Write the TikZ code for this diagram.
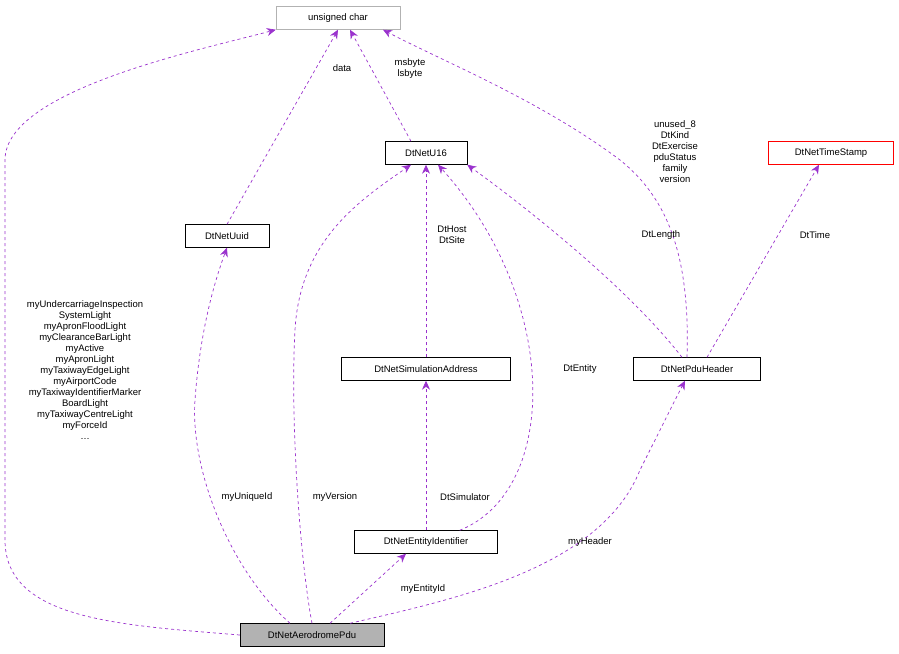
\documentclass[tikz,border=0pt]{standalone}
\usepackage{fontspec}
\setmainfont{Liberation Sans}
\usetikzlibrary{positioning,arrows,arrows.meta}
\definecolor{edgepurple}{HTML}{9A32CD}

\begin{document}
\begin{tikzpicture}[x=1pt,y=-1pt,
  cls/.style={draw=black,fill=white,minimum height=23pt,inner sep=2pt,font=\fontsize{9.5}{10}\selectfont},
  dep/.style={-{Stealth[length=9pt,width=8pt]},dashed,draw=edgepurple,line width=0.7pt},
  lab/.style={font=\fontsize{9.5}{11}\selectfont,align=center,inner sep=1pt}]
  \useasboundingbox (0,0) rectangle (899,653);
  \node[cls,draw=gray!60,minimum width=124pt] (uchar) at (338,18) {unsigned char};
  \node[cls,minimum width=82pt] (u16) at (426,153) {DtNetU16};
  \node[cls,draw=red,minimum width=125pt] (stamp) at (831,153) {DtNetTimeStamp};
  \node[cls,minimum width=84pt] (uuid) at (227,236) {DtNetUuid};
  \node[cls,minimum width=169pt] (simaddr) at (426,369) {DtNetSimulationAddress};
  \node[cls,minimum width=127pt] (header) at (697,369) {DtNetPduHeader};
  \node[cls,minimum width=143pt] (entid) at (426,542) {DtNetEntityIdentifier};
  \node[cls,fill=gray!60,minimum width=144pt] (pdu) at (312,635) {DtNetAerodromePdu};

  % links from the pdu
  \draw[dep] (pdu.west) .. controls (120,625) and (5,620) .. (5,540) -- (5,160)
    .. controls (5,90) and (200,50) .. (uchar.south west);
  \draw[dep] ([xshift=-22pt]pdu.north) .. controls (230,570) and (190,470) .. (195,400)
    .. controls (200,330) and (215,280) .. (uuid.south);
  \draw[dep] (pdu.north) .. controls (300,560) and (290,420) .. (295,330)
    .. controls (300,240) and (360,200) .. ([xshift=-15pt]u16.south);
  \draw[dep] ([xshift=18pt]pdu.north) -- ([xshift=-20pt]entid.south);
  \draw[dep] ([xshift=38pt]pdu.north) .. controls (450,600) and (600,570) .. (640,470)
    .. controls (660,430) and (675,400) .. ([xshift=-12pt]header.south);
  \node[lab] at (85,370) {myUndercarriageInspection\\SystemLight\\myApronFloodLight\\myClearanceBarLight\\myActive\\myApronLight\\myTaxiwayEdgeLight\\myAirportCode\\myTaxiwayIdentifierMarker\\BoardLight\\myTaxiwayCentreLight\\myForceId\\\dots};
  \node[lab] at (247,497) {myUniqueId};
  \node[lab] at (335,497) {myVersion};
  \node[lab] at (423,589) {myEntityId};
  \node[lab] at (590,542) {myHeader};

  % inner links
  \draw[dep] (entid.north) -- (simaddr.south);
  \draw[dep] ([xshift=-38pt]entid.north east) .. controls (560,490) and (560,300) .. ([xshift=12pt]u16.south);
  \draw[dep] (simaddr.north) -- (u16.south);
  \draw[dep] ([xshift=-15pt]header.north) .. controls (630,290) and (530,210) .. (u16.south east);
  \draw[dep] ([xshift=-10pt]header.north) .. controls (690,260) and (670,200) .. (620,160)
    .. controls (540,100) and (440,60) .. ([xshift=45pt]uchar.south);
  \draw[dep] ([xshift=10pt]header.north) -- ([xshift=-12pt]stamp.south);
  \draw[dep] (uuid.north) -- (uchar.south);
  \draw[dep] ([xshift=-15pt]u16.north) -- ([xshift=12pt]uchar.south);
  \node[lab] at (465,497) {DtSimulator};
  \node[lab] at (580,369) {DtEntity};
  \node[lab] at (452,235) {DtHost\\DtSite};
  \node[lab] at (661,235) {DtLength};
  \node[lab] at (675,152) {unused\_8\\DtKind\\DtExercise\\pduStatus\\family\\version};
  \node[lab] at (815,235) {DtTime};
  \node[lab] at (342,68) {data};
  \node[lab] at (410,69) {msbyte\\lsbyte};
\end{tikzpicture}
\end{document}
